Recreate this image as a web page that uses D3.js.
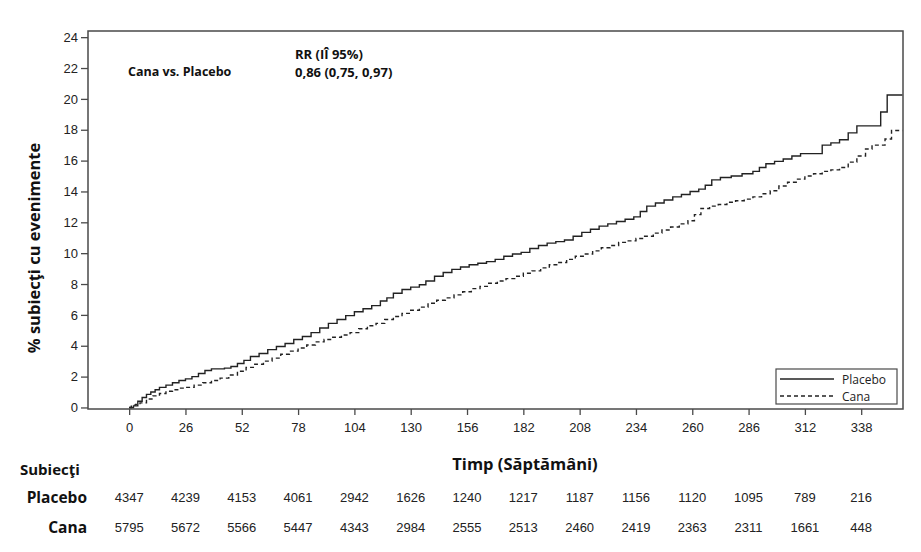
<!DOCTYPE html>
<html>
<head>
<meta charset="utf-8">
<script src="https://cdn.jsdelivr.net/npm/d3@7"></script>
<style>
  body { margin: 0; background: #fff; }
  svg { display: block; }
</style>
</head>
<body>
<div id="chart"></div>
<script>
const weekTicks = [0, 26, 52, 78, 104, 130, 156, 182, 208, 234, 260, 286, 312, 338]
const placeboAtRisk = [4347, 4239, 4153, 4061, 2942, 1626, 1240, 1217, 1187, 1156, 1120, 1095, 789, 216]
const canaAtRisk = [5795, 5672, 5566, 5447, 4343, 2984, 2555, 2513, 2460, 2419, 2363, 2311, 1661, 448]
const yTicks = [0, 2, 4, 6, 8, 10, 12, 14, 16, 18, 20, 22, 24]

// cumulative % with events
const placeboWeeks = [0, 2, 4, 6, 8, 10, 12, 14, 17, 20, 23, 26, 29, 32, 35, 38, 44, 47, 50, 53, 56, 60, 64, 68, 72, 76, 80, 84, 88, 92, 96, 100, 104, 108, 112, 116, 119, 122, 126, 130, 134, 137, 141, 145, 149, 153, 157, 161, 165, 169, 173, 177, 181, 185, 189, 193, 197, 201, 205, 209, 213, 217, 221, 225, 229, 233, 236, 239, 243, 247, 251, 255, 259, 263, 266, 269, 273, 278, 283, 288, 291, 294, 298, 302, 306, 310, 320, 324, 328, 332, 336, 347, 350, 357]
const placeboPct = [0, 0.1, 0.4, 0.65, 0.85, 1.0, 1.15, 1.3, 1.45, 1.6, 1.75, 1.85, 2.0, 2.2, 2.4, 2.5, 2.55, 2.65, 2.85, 3.05, 3.3, 3.5, 3.75, 3.95, 4.15, 4.4, 4.6, 4.85, 5.15, 5.45, 5.7, 5.95, 6.2, 6.4, 6.6, 6.9, 7.1, 7.4, 7.65, 7.8, 7.95, 8.2, 8.5, 8.75, 8.95, 9.1, 9.25, 9.35, 9.45, 9.6, 9.8, 9.95, 10.05, 10.3, 10.5, 10.65, 10.75, 10.85, 11.1, 11.35, 11.55, 11.75, 11.9, 12.05, 12.2, 12.35, 12.7, 13.05, 13.25, 13.45, 13.65, 13.8, 14.0, 14.15, 14.4, 14.75, 14.9, 15.0, 15.15, 15.3, 15.55, 15.8, 15.95, 16.1, 16.3, 16.45, 17.0, 17.15, 17.35, 17.8, 18.25, 19.15, 20.25, 20.25]
const canaWeeks = [0, 1, 3, 5, 8, 11, 14, 17, 20, 23, 26, 30, 34, 38, 42, 46, 50, 54, 58, 62, 66, 70, 74, 78, 82, 86, 90, 94, 98, 102, 106, 110, 114, 118, 122, 126, 130, 134, 138, 142, 146, 150, 154, 158, 162, 166, 170, 174, 178, 182, 186, 190, 194, 198, 202, 206, 210, 214, 218, 222, 226, 230, 234, 238, 242, 246, 250, 254, 258, 261, 264, 268, 272, 276, 280, 284, 288, 292, 296, 300, 304, 308, 312, 316, 320, 324, 328, 332, 336, 340, 343, 349, 352, 357]
const canaPct = [0, 0.15, 0.2, 0.3, 0.55, 0.75, 0.9, 1.05, 1.15, 1.25, 1.3, 1.45, 1.6, 1.75, 1.9, 2.1, 2.35, 2.6, 2.8, 3.0, 3.2, 3.45, 3.65, 3.85, 4.05, 4.25, 4.4, 4.55, 4.7, 4.85, 5.1, 5.3, 5.45, 5.7, 5.9, 6.1, 6.3, 6.5, 6.75, 6.95, 7.1, 7.3, 7.5, 7.7, 7.85, 8.05, 8.2, 8.35, 8.5, 8.7, 8.85, 9.05, 9.25, 9.4, 9.6, 9.8, 9.95, 10.15, 10.35, 10.5, 10.7, 10.8, 10.95, 11.1, 11.3, 11.5, 11.7, 11.9, 12.1, 12.5, 12.9, 13.05, 13.15, 13.3, 13.4, 13.5, 13.65, 13.85, 14.05, 14.35, 14.6, 14.8, 15.0, 15.15, 15.3, 15.4, 15.55, 15.9, 16.3, 16.75, 17.0, 17.4, 17.95, 17.95]

const width = 921
const height = 552
const plot = { left: 88, right: 903, top: 31, bottom: 409 }
const axisColor = "#4a4a4a"
const lineColor = "#222"
const tickFont = "'Liberation Sans', Arial, sans-serif"
const labelFont = "'Open Sans', sans-serif"

const svg = d3.select("#chart").append("svg")
    .attr("width", width)
    .attr("height", height)

const x = d3.scaleLinear().domain([-19, 357.3]).range([plot.left, plot.right])
const y = d3.scaleLinear().domain([-0.1, 24.4]).range([plot.bottom, plot.top])

// frame
svg.append("rect")
    .attr("x", plot.left)
    .attr("y", plot.top)
    .attr("width", plot.right - plot.left)
    .attr("height", plot.bottom - plot.top)
    .attr("fill", "none")
    .attr("stroke", axisColor)
    .attr("stroke-width", 1.5)

const yAxis = svg.append("g")
    .attr("transform", `translate(${plot.left},0)`)
    .call(d3.axisLeft(y).tickValues(yTicks).tickSize(7).tickPadding(3))
yAxis.select(".domain").remove()

const xAxis = svg.append("g")
    .attr("transform", `translate(0,${plot.bottom})`)
    .call(d3.axisBottom(x).tickValues(weekTicks).tickSize(6).tickPadding(8))
xAxis.select(".domain").remove()

svg.selectAll(".tick line").attr("stroke", axisColor).attr("stroke-width", 1.3)
svg.selectAll(".tick text")
    .attr("fill", "#222")
    .style("font-family", tickFont)
    .style("font-size", "13px")

// curves
const line = d3.line()
    .x((d) => x(d[0]))
    .y((d) => y(d[1]))
    .curve(d3.curveStepAfter)

const placeboData = placeboWeeks.map((w, i) => [w, placeboPct[i]])
const canaData = canaWeeks.map((w, i) => [w, canaPct[i]])

svg.append("path")
    .datum(placeboData)
    .attr("d", line)
    .attr("fill", "none")
    .attr("stroke", lineColor)
    .attr("stroke-width", 1.4)

svg.append("path")
    .datum(canaData)
    .attr("d", line)
    .attr("fill", "none")
    .attr("stroke", lineColor)
    .attr("stroke-width", 1.4)
    .attr("stroke-dasharray", "4,3")

// annotation text
const boldText = (tx, ty, str, size, anchor) =>
    svg.append("text")
        .attr("x", tx)
        .attr("y", ty)
        .attr("text-anchor", anchor || "start")
        .attr("fill", "#111")
        .style("font-family", labelFont)
        .style("font-weight", "bold")
        .style("font-size", size + "px")
        .text(str)

boldText(128, 76, "Cana vs. Placebo", 12.5)
boldText(295, 59, "RR (IÎ 95%)", 13)
boldText(295, 77, "0,86 (0,75, 0,97)", 13)

svg.append("text")
    .attr("transform", "translate(40,248) rotate(-90)")
    .attr("text-anchor", "middle")
    .attr("fill", "#111")
    .style("font-family", labelFont)
    .style("font-weight", "bold")
    .style("font-size", "16.5px")
    .text("% subiecţi cu evenimente")

boldText(525, 470, "Timp (Săptămâni)", 16.5, "middle")

// legend
const legend = svg.append("g")
legend.append("rect")
    .attr("x", 776)
    .attr("y", 369)
    .attr("width", 121)
    .attr("height", 35)
    .attr("fill", "#fff")
    .attr("stroke", axisColor)
    .attr("stroke-width", 1.2)

const legendItems = [["Placebo", null, 379], ["Cana", "4,3", 396]]
legendItems.forEach(([name, dash, ly]) => {
    legend.append("line")
        .attr("x1", 780).attr("x2", 834)
        .attr("y1", ly).attr("y2", ly)
        .attr("stroke", lineColor)
        .attr("stroke-width", 1.3)
        .attr("stroke-dasharray", dash)
    legend.append("text")
        .attr("x", 842)
        .attr("y", ly + 4.5)
        .attr("fill", "#222")
        .style("font-family", labelFont)
        .style("font-size", "12px")
        .text(name)
})

// numbers at risk
boldText(20, 475, "Subiecţi", 15)
boldText(87, 503, "Placebo", 15.5, "end")
boldText(87, 533, "Cana", 15.5, "end")

const riskRows = [[placeboAtRisk, 502], [canaAtRisk, 532]]
riskRows.forEach(([counts, ry]) => {
    svg.append("g")
        .selectAll("text")
        .data(counts)
        .join("text")
        .attr("x", (d, i) => x(weekTicks[i]))
        .attr("y", ry)
        .attr("text-anchor", "middle")
        .attr("fill", "#222")
        .style("font-family", tickFont)
        .style("font-size", "13px")
        .text((d) => d)
})
</script>
</body>
</html>
